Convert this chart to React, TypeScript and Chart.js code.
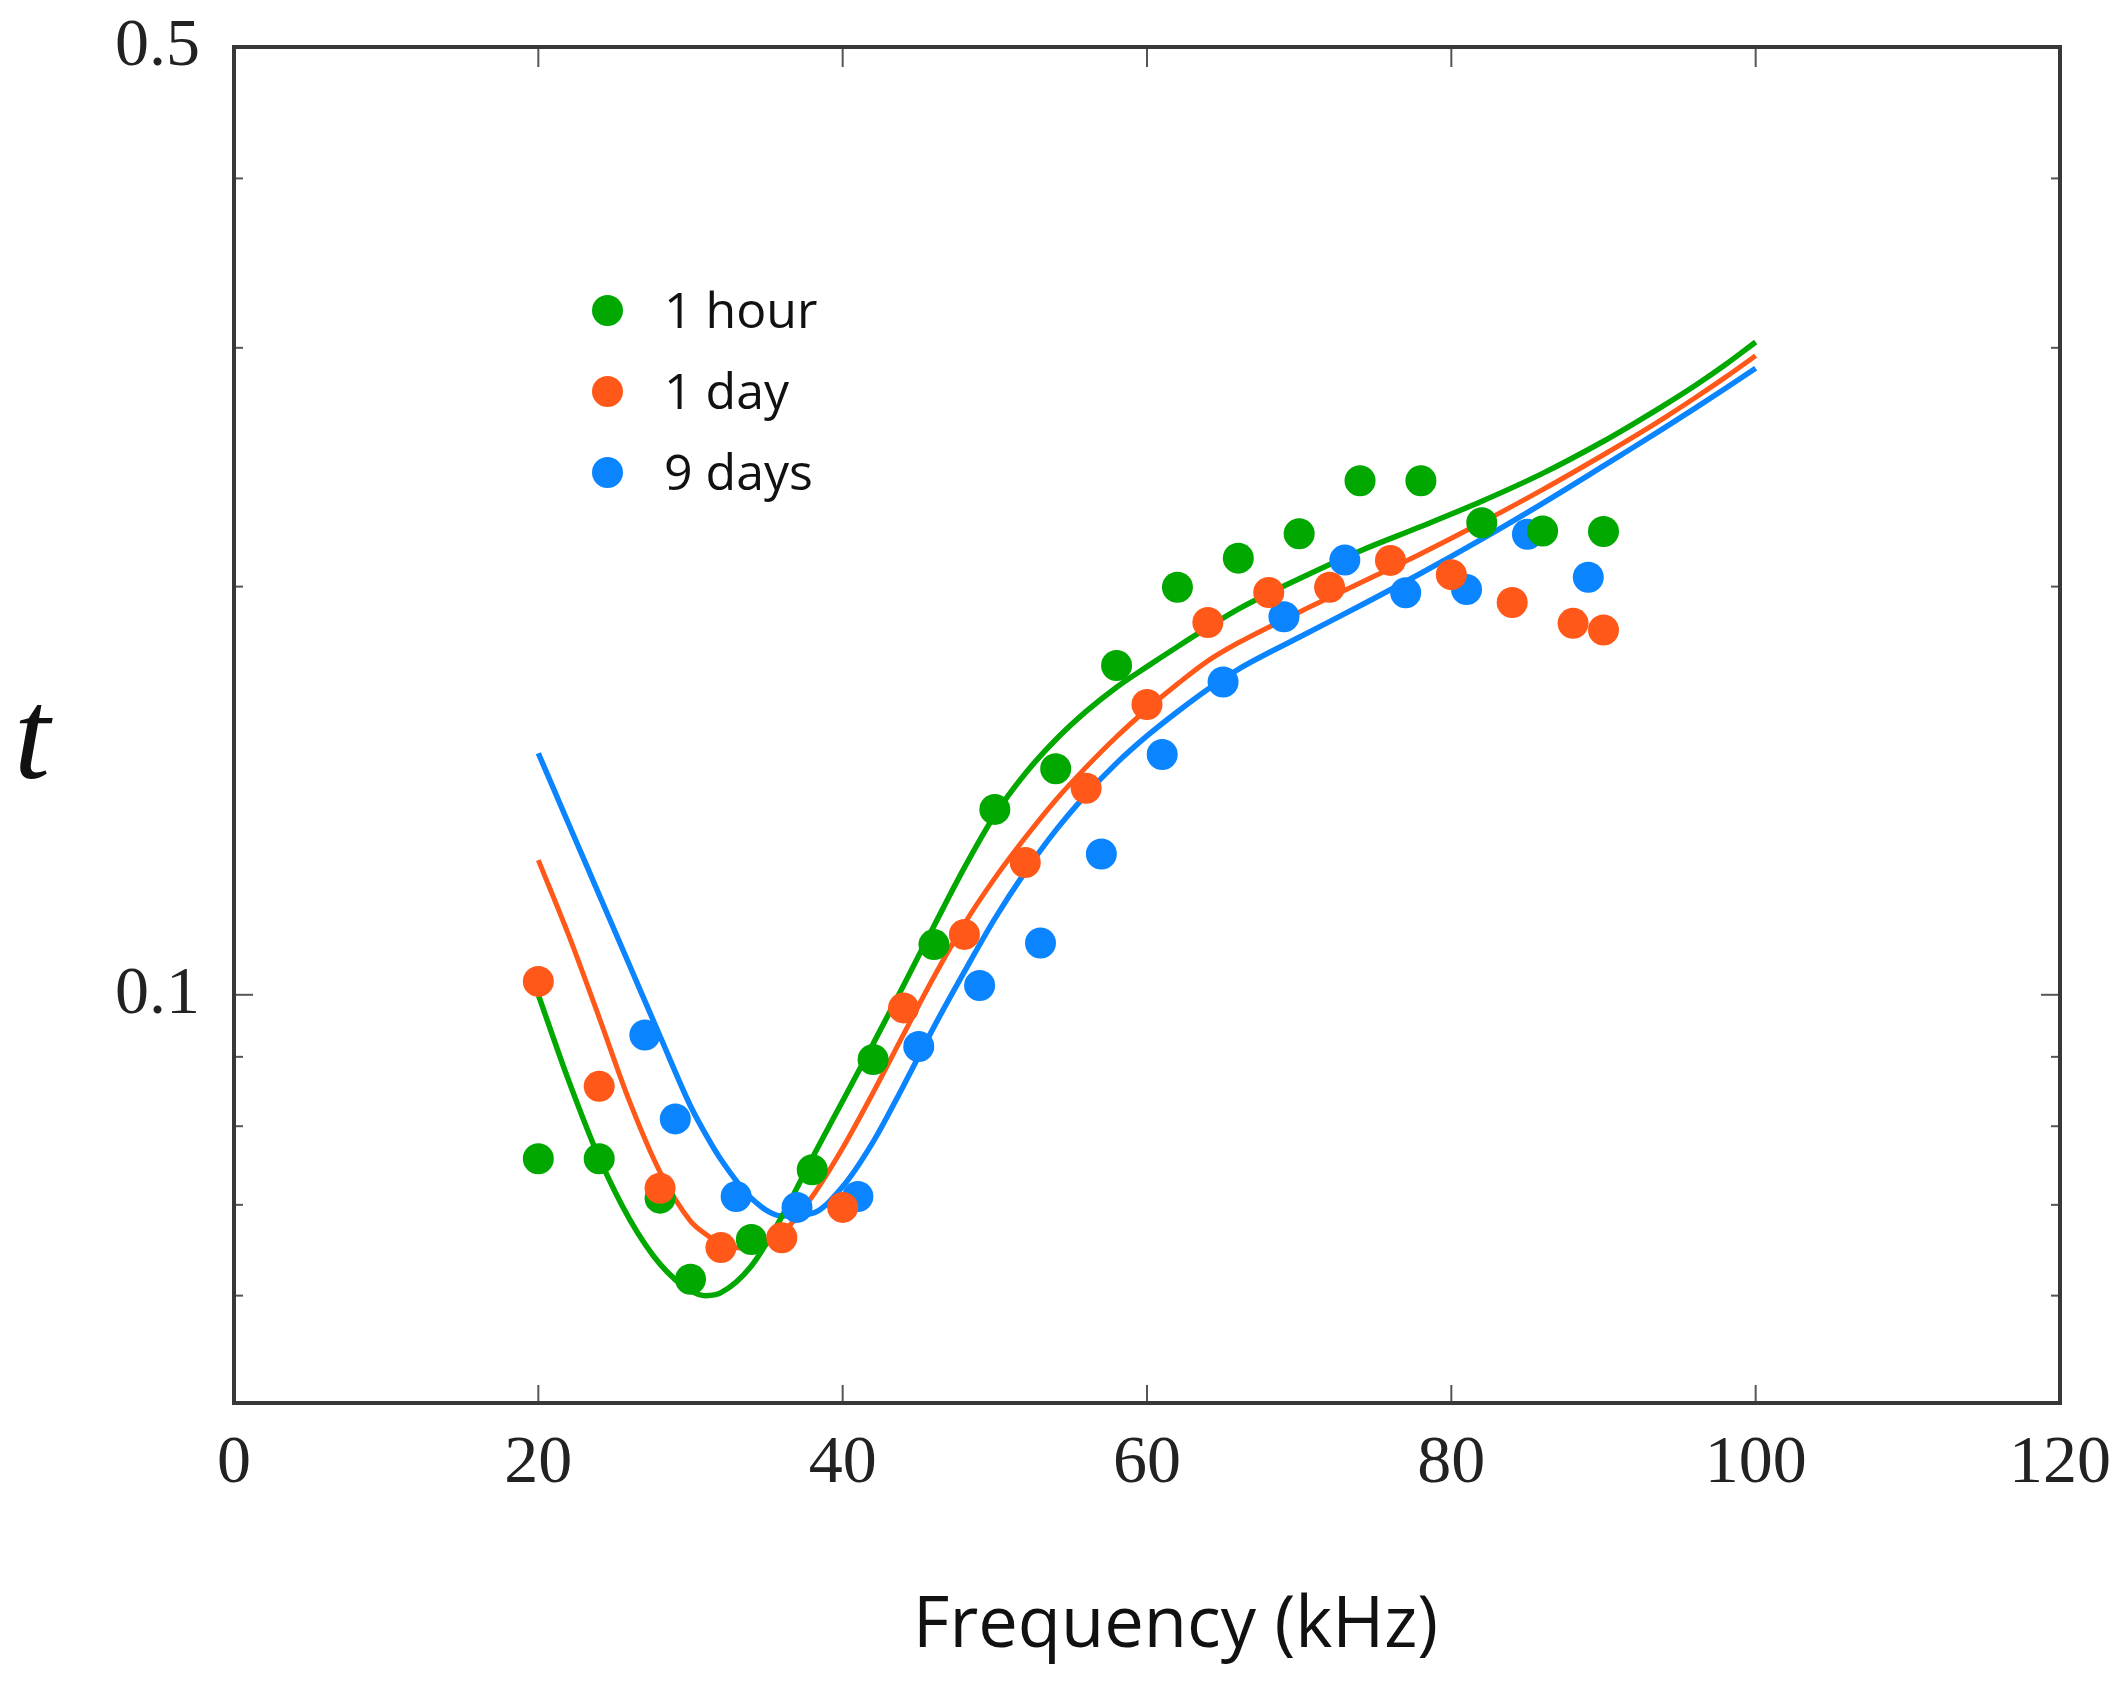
import { useEffect, useRef } from 'react'
import { Chart, registerables } from 'chart.js'
Chart.register(...registerables)

const SERIES = ['1 hour', '1 day', '9 days']
const COLORS = ['#00a800', '#ff5819', '#0a84ff']

const X_TICKS = [0, 20, 40, 60, 80, 100, 120]
const Y_TICKS = [0.05, 0.06, 0.07, 0.08, 0.09, 0.1, 0.2, 0.3, 0.4, 0.5]
const Y_LABELED = [0.1, 0.5]

// measured points (frequency kHz, t)
const hourF = [20, 24, 28, 30, 34, 38, 42, 46, 50, 54, 58, 62, 66, 70, 74, 78, 82, 86, 90]
const hourT = [0.0757, 0.0757, 0.0708, 0.0617, 0.066, 0.0743, 0.0896, 0.1089, 0.137, 0.1468, 0.1749, 0.1998, 0.2099, 0.2188, 0.2394, 0.2394, 0.2229, 0.2198, 0.2196]
const dayF = [20, 24, 28, 32, 36, 40, 44, 48, 52, 56, 60, 64, 68, 72, 76, 80, 84, 88, 90]
const dayT = [0.1023, 0.0856, 0.072, 0.0651, 0.0662, 0.0697, 0.0978, 0.1108, 0.1252, 0.142, 0.1637, 0.1882, 0.198, 0.1998, 0.2091, 0.2041, 0.1947, 0.1879, 0.1858]
const nineF = [27, 29, 33, 37, 41, 45, 49, 53, 57, 61, 65, 69, 73, 77, 81, 85, 89]
const nineT = [0.0934, 0.081, 0.071, 0.0697, 0.071, 0.0916, 0.1016, 0.1092, 0.127, 0.1504, 0.1701, 0.19, 0.2092, 0.1979, 0.199, 0.2186, 0.2032]

const fitF = [20, 22, 24, 26, 28, 30, 31, 32, 34, 36, 38, 40, 42, 44, 46, 48, 50, 52, 54, 56, 58, 60, 62, 64, 66, 70, 74, 78, 82, 86, 90, 92, 94, 96, 98, 100]
const fitHour = [0.1, 0.0864, 0.0758, 0.0683, 0.0633, 0.0605, 0.06, 0.0603, 0.0631, 0.0686, 0.0758, 0.0835, 0.092, 0.1016, 0.1124, 0.1241, 0.1357, 0.1456, 0.1542, 0.1618, 0.1686, 0.1746, 0.1806, 0.1866, 0.1925, 0.2027, 0.2125, 0.2215, 0.2312, 0.2424, 0.256, 0.2638, 0.2722, 0.2813, 0.2915, 0.303]
const fitDay = [0.1257, 0.1106, 0.0962, 0.0834, 0.074, 0.0681, 0.0666, 0.0655, 0.065, 0.0667, 0.071, 0.0771, 0.0847, 0.0935, 0.1031, 0.1128, 0.1219, 0.1306, 0.1392, 0.1472, 0.155, 0.1624, 0.1695, 0.1763, 0.1818, 0.1915, 0.2012, 0.2115, 0.223, 0.2358, 0.2502, 0.258, 0.2664, 0.2755, 0.2853, 0.296]
const fitNine = [0.1507, 0.1336, 0.1185, 0.1051, 0.0932, 0.0828, 0.0789, 0.0756, 0.0708, 0.0687, 0.069, 0.0722, 0.0779, 0.0857, 0.0947, 0.104, 0.1138, 0.1232, 0.1322, 0.1405, 0.1482, 0.1552, 0.1617, 0.168, 0.1738, 0.1835, 0.1936, 0.2046, 0.2168, 0.2304, 0.2455, 0.2535, 0.2619, 0.2707, 0.28, 0.2898]

const pts = (f: number[], t: number[]) => f.map((x, i) => ({ x, y: t[i] }))

// box and inward ticks on all four sides
const frame = {
  id: 'frame',
  afterDraw(chart: any) {
    const { ctx, chartArea: a, scales } = chart
    const seg = (x1: number, y1: number, x2: number, y2: number) => { ctx.beginPath(); ctx.moveTo(x1, y1); ctx.lineTo(x2, y2); ctx.stroke() }
    ctx.save()
    ctx.strokeStyle = '#555'
    ctx.lineWidth = 2
    X_TICKS.forEach(v => {
      const p = scales.x.getPixelForValue(v)
      seg(p, a.bottom, p, a.bottom - 18)
      seg(p, a.top, p, a.top + 20)
    })
    Y_TICKS.forEach(v => {
      const p = scales.y.getPixelForValue(v)
      const len = Y_LABELED.includes(v) ? 19 : 9
      seg(a.left, p, a.left + len, p)
      seg(a.right, p, a.right - len, p)
    })
    ctx.strokeStyle = '#383838'
    ctx.lineWidth = 4
    ctx.strokeRect(a.left, a.top, a.width, a.height)
    ctx.restore()
  },
}

export default function App() {
  const ref = useRef<HTMLCanvasElement>(null)

  useEffect(() => {
    if (!ref.current) return
    const serif = { family: '"Liberation Serif", "DejaVu Serif", serif', size: 68 }
    const fits = [fitHour, fitDay, fitNine]
    const chart = new Chart(ref.current, {
      type: 'scatter',
      data: {
        datasets: [
          ...fits.map((d, i) => ({
            label: SERIES[i] + ' fit', data: pts(fitF, d), showLine: true, borderColor: COLORS[i],
            borderWidth: i === 1 ? 5 : 5.5, pointRadius: 0, cubicInterpolationMode: 'monotone' as const, fill: false, order: 10,
          })),
          { label: SERIES[2], data: pts(nineF, nineT), pointRadius: 15.5, pointBackgroundColor: COLORS[2], pointBorderWidth: 0, order: 3 },
          { label: SERIES[0], data: pts(hourF, hourT), pointRadius: 15.5, pointBackgroundColor: COLORS[0], pointBorderWidth: 0, order: 2 },
          { label: SERIES[1], data: pts(dayF, dayT), pointRadius: 15.5, pointBackgroundColor: COLORS[1], pointBorderWidth: 0, order: 1 },
        ],
      },
      options: {
        animation: false, responsive: true, maintainAspectRatio: false,
        layout: { padding: { left: 0, top: 47, right: 66, bottom: 0 } },
        plugins: { legend: { display: false }, tooltip: { enabled: false } },
        scales: {
          x: {
            type: 'linear', min: 0, max: 120,
            afterBuildTicks: (s: any) => { s.ticks = X_TICKS.map(v => ({ value: v })) },
            afterFit: (s: any) => { s.height = 279; s.paddingLeft = 0; s.paddingRight = 0 },
            grid: { display: false, drawTicks: false }, border: { display: false },
            ticks: { font: serif, color: '#222', padding: 20, maxRotation: 0, autoSkip: false },
          },
          y: {
            type: 'logarithmic', min: 0.05, max: 0.5,
            afterBuildTicks: (s: any) => { s.ticks = Y_TICKS.map(v => ({ value: v })) },
            afterFit: (s: any) => { s.width = 234; s.paddingTop = 0; s.paddingBottom = 0 },
            grid: { display: false, drawTicks: false }, border: { display: false },
            ticks: { font: serif, color: '#222', padding: 34, autoSkip: false, callback: (v: any) => Y_LABELED.includes(v) ? String(v) : '' },
          },
        },
      },
      plugins: [frame],
    } as any)
    return () => chart.destroy()
  }, [])

  const sans = '"Open Sans", "Noto Sans", sans-serif'

  return (
    <div style={{ position: 'fixed', inset: 0, background: '#fff' }}>
      <div style={{ position: 'relative', width: 2126, height: 1682 }}>
        <canvas ref={ref} />
        <div style={{ position: 'absolute', left: 14, top: 669, fontFamily: '"Liberation Serif", serif', fontStyle: 'italic', fontSize: 130, lineHeight: 1, color: '#111' }}>t</div>
        <div style={{ position: 'absolute', left: 913, top: 1585, fontFamily: sans, fontSize: 70.5, lineHeight: 1, color: '#111', whiteSpace: 'nowrap' }}>Frequency (kHz)</div>
        {SERIES.map((s, i) => (
          <div key={s}>
            <div style={{ position: 'absolute', left: 607 - 15.5, top: 310 + i * 81 - 15.5, width: 31, height: 31, borderRadius: '50%', background: COLORS[i] }} />
            <div style={{ position: 'absolute', left: 664, top: 310 + i * 81 - 26.5, fontFamily: sans, fontSize: 50, lineHeight: 1, color: '#111', whiteSpace: 'nowrap' }}>{s}</div>
          </div>
        ))}
      </div>
    </div>
  )
}
